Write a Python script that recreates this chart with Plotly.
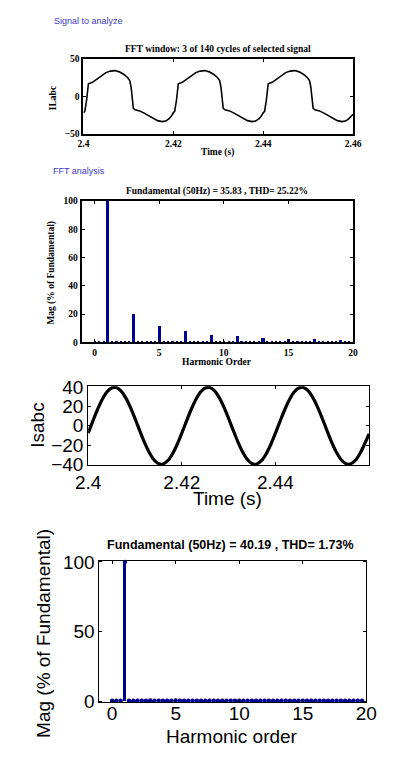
import plotly.graph_objects as go

W, H = 397, 758

# ---------------- data ----------------
# Panel 1: distorted load current (time offsets in ms from 2.4 s)
il_ms = [0.0, 0.3, 0.7, 1.1, 2.0, 3.0, 4.0, 5.0, 6.0, 7.0, 8.0, 9.0, 9.8, 10.3, 10.6, 10.9, 11.1, 11.5,
         12.5, 13.5, 14.5, 15.5, 16.5, 17.5, 18.3, 19.0, 19.5, 20.0,
         20.3, 20.7, 21.1, 22.0, 23.0, 24.0, 25.0, 26.0, 27.0, 28.0, 29.0, 29.8, 30.3, 30.6, 30.9, 31.1, 31.5,
         32.5, 33.5, 34.5, 35.5, 36.5, 37.5, 38.3, 39.0, 39.5, 40.0,
         40.3, 40.7, 41.1, 42.0, 43.0, 44.0, 45.0, 46.0, 47.0, 48.0, 49.0, 49.8, 50.3, 50.6, 50.9, 51.1, 51.5,
         52.5, 53.5, 54.5, 55.5, 56.5, 57.5, 58.3, 59.0, 59.5, 60.0]
il_val = [-22, -20, -5, 16.5, 18.5, 22.5, 27.5, 31.5, 33.5, 34.2, 32.5, 29, 25, 21, 12, -5, -16, -18,
          -19.5, -22.5, -26, -29.5, -32.5, -33.8, -33, -30, -27, -22,
          -20, -5, 16.5, 18.5, 22.5, 27.5, 31.5, 33.5, 34.2, 32.5, 29, 25, 21, 12, -5, -16, -18,
          -19.5, -22.5, -26, -29.5, -32.5, -33.8, -33, -30, -27, -22,
          -20, -5, 16.5, 18.5, 22.5, 27.5, 31.5, 33.5, 34.2, 32.5, 29, 25, 21, 12, -5, -16, -18,
          -19.5, -22.5, -26, -29.5, -32.5, -33.8, -33, -30, -27, -24]

# Panel 2: harmonic spectrum of load current
h1_order = [1, 3, 5, 7, 9, 11, 13, 15, 17, 19]
h1_mag = [100, 19.8, 11.7, 8.3, 5.5, 4.4, 3.4, 2.5, 2.1, 1.4]
bins1_mag = [1.2, 0.5, 0.5, 0, 0.5, 0.5, 0.6, 0.5, 0.5, 0, 0.5, 0.5, 0.6, 0.5, 0.5, 0, 0.5, 0.5,
             0.6, 0.5, 0.5, 0, 0.5, 0.5, 0.6, 0.5, 0.5, 0, 0.5, 0.5, 1.0, 0.5, 0.5, 0, 0.5, 0.5,
             0.6, 0.5, 0.5, 0, 0.5, 0.5, 0.6, 0.5, 0.5, 0, 0.5, 0.5, 0.6, 0.5, 0.5, 0, 0.5, 0.5,
             0.6, 0.5, 0.5, 0, 0.5, 0.5]

# Panel 3: source current samples every 1 ms from 2.4 s
is_ms = list(range(0, 61))
is_val = [-7.6, 4.9, 16.9, 27.3, 35.0, 39.3, 39.7, 36.3, 29.3, 19.4, 7.6, -4.9, -16.9, -27.3, -35.0,
          -39.3, -39.7, -36.3, -29.3, -19.4,
          -7.6, 4.9, 16.9, 27.3, 35.0, 39.3, 39.7, 36.3, 29.3, 19.4, 7.6, -4.9, -16.9, -27.3, -35.0,
          -39.3, -39.7, -36.3, -29.3, -19.4,
          -7.6, 4.9, 16.9, 27.3, 35.0, 39.3, 39.7, 36.3, 29.3, 19.4, 7.6, -4.9, -16.9, -27.3, -35.0,
          -39.3, -39.7, -36.3, -29.3, -19.4, -8.5]

# Panel 4: source current spectrum bins (1/3 harmonic resolution)
bins2_mag = [0.3, 0.2, 0.2, 100, 0.2, 0.2, 0.2, 0.2, 0.2, 0.4, 0.2, 0.2, 0.2, 0.2, 0.2, 0.4, 0.2, 0.2,
             0.2, 0.2, 0.2, 0.3, 0.2, 0.2, 0.2, 0.2, 0.2, 0.2, 0.2, 0.2, 0.2, 0.2, 0.2, 0.2, 0.2, 0.2,
             0.2, 0.2, 0.2, 0.2, 0.2, 0.2, 0.2, 0.2, 0.2, 0.2, 0.2, 0.2, 0.2, 0.2, 0.2, 0.2, 0.2, 0.2,
             0.2, 0.2, 0.2, 0.2, 0.2, 0.2]

title1 = "FFT window: 3 of 140 cycles of selected signal"
title2 = "Fundamental (50Hz) = 35.83 , THD= 25.22%"
title4 = "Fundamental (50Hz) = 40.19 , THD= 1.73%"

# ---------------- helpers ----------------
def dx(a, b):
    return [a / W, b / W]

def dy(top, bottom):
    return [1 - bottom / H, 1 - top / H]

def px(x):
    return x / W

def py(y):
    return 1 - y / H

SERIF = "Liberation Serif"
SANS = "Liberation Sans"
NAVY = "#00008f"

t1 = [2.4 + m / 1000 for m in il_ms]
t3 = [2.4 + m / 1000 for m in is_ms]
bx1 = [k / 3 for k in range(len(bins1_mag))]
bx2 = [k / 3 for k in range(len(bins2_mag))]

fig = go.Figure()

fig.add_trace(go.Scatter(x=t1, y=il_val, mode="lines", line=dict(color="black", width=1.6),
                         xaxis="x", yaxis="y", showlegend=False))
fig.add_trace(go.Bar(x=bx1, y=bins1_mag, width=0.16, marker=dict(color=NAVY, line=dict(width=0)),
                     xaxis="x2", yaxis="y2", showlegend=False))
fig.add_trace(go.Bar(x=h1_order, y=h1_mag, width=0.24, marker=dict(color=NAVY, line=dict(width=0)),
                     xaxis="x2", yaxis="y2", showlegend=False))
fig.add_trace(go.Scatter(x=t3, y=is_val, mode="lines", line=dict(color="black", width=3.2, shape="spline"),
                         xaxis="x3", yaxis="y3", showlegend=False))
fig.add_trace(go.Bar(x=bx2, y=bins2_mag, width=0.26, marker=dict(color=NAVY, line=dict(width=0)),
                     xaxis="x4", yaxis="y4", showlegend=False))
fig.add_trace(go.Scatter(x=bx2, y=bins2_mag, mode="markers", marker=dict(color=NAVY, size=4.5),
                         xaxis="x4", yaxis="y4", showlegend=False, cliponaxis=False))

serif_tick = dict(family=SERIF, size=9.5, color="black", weight="bold")
sans_tick = dict(family=SANS, size=19, color="black")

common_serif = dict(showline=True, linecolor="black", linewidth=2, mirror="ticks", ticks="inside",
                    ticklen=3, tickcolor="black", tickwidth=1, showgrid=False, zeroline=False,
                    tickfont=serif_tick)
common_sans = dict(showline=True, linecolor="black", linewidth=1, mirror="ticks", ticks="inside",
                   ticklen=3, tickcolor="black", tickwidth=1, showgrid=False, zeroline=False,
                   tickfont=sans_tick)

fig.update_layout(
    width=W, height=H, margin=dict(l=0, r=0, t=0, b=0),
    paper_bgcolor="white", plot_bgcolor="white", barmode="overlay", bargap=0,
    xaxis=dict(domain=dx(75, 362), anchor="y", range=[2.4, 2.46],
               tickvals=[2.4, 2.42, 2.44, 2.46], ticktext=["2.4", "2.42", "2.44", "2.46"], **common_serif),
    yaxis=dict(domain=dy(51, 128), anchor="x", range=[-50, 50], tickvals=[-50, 0, 50], **common_serif),
    xaxis2=dict(domain=dx(73, 362), anchor="y2", range=[-1, 20], tickvals=[0, 5, 10, 15, 20], **common_serif),
    yaxis2=dict(domain=dy(197, 342), anchor="x2", range=[0, 100], tickvals=[0, 20, 40, 60, 80, 100],
                **common_serif),
    xaxis3=dict(domain=dx(80, 379), anchor="y3", range=[2.4, 2.46], tickvals=[2.4, 2.42, 2.44],
                ticktext=["2.4", "2.42", "2.44"], **common_sans),
    yaxis3=dict(domain=dy(387, 468), anchor="x3", range=[-41, 41], tickvals=[-40, -20, 0, 20, 40],
                **common_sans),
    xaxis4=dict(domain=dx(92, 376), anchor="y4", range=[-1, 20], tickvals=[0, 5, 10, 15, 20],
                ticklabelstandoff=-6, **common_sans),
    yaxis4=dict(domain=dy(566, 711), anchor="x4", range=[-0.8, 100.8], tickvals=[0, 50, 100], **common_sans),
)

ann = []
def add(text, x, y, size, family, color="black", bold=False, angle=0, xanchor="center"):
    ann.append(dict(text=text, x=px(x), y=py(y), xref="paper", yref="paper", showarrow=False,
                    xanchor=xanchor, yanchor="middle", textangle=angle,
                    font=dict(family=family, size=size, color=color, weight="bold" if bold else "normal")))

BLUE = "#3a3ac8"
add("Signal to analyze", 41, 12, 9, SANS, color=BLUE, xanchor="left")
add(title1, 218, 41, 9.5, SERIF, bold=True)
add("ILabc", 42, 91, 9.5, SERIF, bold=True, angle=-90)
add("Time (s)", 218, 147, 9.5, SERIF, bold=True)

add("FFT analysis", 40, 166, 9, SANS, color=BLUE, xanchor="left")
add(title2, 217, 187, 9.5, SERIF, bold=True)
add("Mag (% of Fundamental)", 41, 271, 9.5, SERIF, bold=True, angle=-90)
add("Harmonic Order", 217, 362, 9.5, SERIF, bold=True)

add("Isabc", 26, 427, 19, SANS, angle=-90)
add("Time (s)", 228, 502, 19, SANS)

add(title4, 231, 550, 12.5, SANS, bold=True)
add("Mag (% of Fundamental)", 33, 641, 19, SANS, angle=-90)
add("Harmonic order", 233, 746, 19, SANS)

fig.update_layout(annotations=ann)

fig.write_html("out.html",
               post_script="document.body.style.margin='0';document.body.style.overflow='hidden';")
